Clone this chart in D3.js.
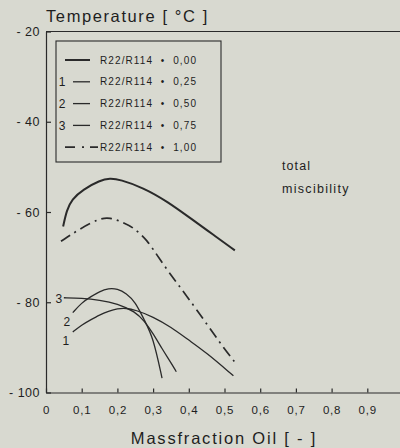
<!DOCTYPE html>
<html>
<head>
<meta charset="utf-8">
<script src="https://cdn.jsdelivr.net/npm/d3@7"></script>
<style>
  html, body { margin: 0; padding: 0; background: #d8d9d0; }
  svg { display: block; font-family: "Liberation Sans", Arial, sans-serif; }
  text { fill: #1e1e1e; }
</style>
</head>
<body>
<svg id="chart" width="400" height="448"></svg>
<script>
// Miscibility limits of R22/R114 blends with oil
const mixRatios = ["0,00", "0,25", "0,50", "0,75", "1,00"];
const curveNumbers = ["", "1", "2", "3", ""];

// mass fraction of oil (x) and temperature in °C (y), one pair per blend
const oil000 = [0.048, 0.058, 0.072, 0.104, 0.151, 0.179, 0.207, 0.272, 0.339, 0.412, 0.468, 0.529];
const temp000 = [-63.2, -59.6, -57.2, -55.0, -53.0, -52.5, -52.8, -54.6, -57.6, -61.8, -65.0, -68.5];

const oil025 = [0.075, 0.10, 0.125, 0.15, 0.175, 0.20, 0.225, 0.25, 0.30, 0.35, 0.40, 0.45, 0.525];
const temp025 = [-86.6, -85.0, -83.9, -82.8, -82.0, -81.4, -81.3, -81.7, -83.2, -85.5, -88.4, -91.2, -96.3];

const oil050 = [0.075, 0.10, 0.125, 0.15, 0.175, 0.20, 0.225, 0.25, 0.275, 0.30, 0.325];
const temp050 = [-82.3, -80.1, -78.8, -77.6, -76.9, -77.0, -78.0, -79.9, -83.9, -87.7, -96.8];

const oil075 = [0.05, 0.10, 0.15, 0.20, 0.25, 0.275, 0.30, 0.325, 0.35, 0.365];
const temp075 = [-79.0, -79.1, -79.5, -80.3, -82.1, -84.1, -86.9, -90.3, -93.4, -95.4];

const oil100 = [0.042, 0.095, 0.151, 0.179, 0.216, 0.244, 0.283, 0.319, 0.370, 0.423, 0.487, 0.535];
const temp100 = [-66.5, -63.7, -61.4, -61.2, -62.3, -63.4, -66.1, -70.6, -76.1, -81.7, -89.0, -93.9];

const xTicks = [0, 0.1, 0.2, 0.3, 0.4, 0.5, 0.6, 0.7, 0.8, 0.9];
const yTicks = [-100, -80, -60, -40, -20];

const seriesOil = [oil000, oil025, oil050, oil075, oil100];
const seriesTemp = [temp000, temp025, temp050, temp075, temp100];

const ink = "#2a2a2a";
const widths = [2, 1.3, 1.3, 1.3, 1.7];
const dashes = [null, null, null, null, "11,5,2,5"];

const svg = d3.select("#chart");
const x = d3.scaleLinear().domain([0, 1]).range([46, 403]);
const y = d3.scaleLinear().domain([-100, -20]).range([392.5, 31.5]);

// top frame line
svg.append("line")
  .attr("x1", x(0)).attr("x2", x(1))
  .attr("y1", y(-20)).attr("y2", y(-20))
  .attr("stroke", ink).attr("stroke-width", 1.2);

// x axis
const xAxis = svg.append("g")
  .attr("transform", `translate(0,${y(-100)})`)
  .call(d3.axisBottom(x)
    .tickValues(xTicks)
    .tickSizeInner(-4).tickSizeOuter(0).tickPadding(13)
    .tickFormat(d => d === 0 ? "0" : d3.format(".1f")(d).replace(".", ",")));
xAxis.selectAll("path, line").attr("stroke", ink).attr("stroke-width", 1.2);
xAxis.selectAll("text")
  .attr("fill", "#1e1e1e")
  .style("font-size", "11.5px").style("letter-spacing", "0.8px")
  .style("font-family", "Liberation Sans, Arial, sans-serif");

// y axis
const yAxis = svg.append("g")
  .attr("transform", `translate(${x(0)},0)`)
  .call(d3.axisLeft(y)
    .tickValues(yTicks)
    .tickSizeInner(-5).tickSizeOuter(0).tickPadding(6)
    .tickFormat(d => "- " + Math.abs(d)));
yAxis.selectAll("path, line").attr("stroke", ink).attr("stroke-width", 1.2);
yAxis.selectAll("text")
  .attr("fill", "#1e1e1e")
  .style("font-size", "12.5px").style("letter-spacing", "0.5px")
  .style("font-family", "Liberation Sans, Arial, sans-serif");

// axis titles
svg.append("text")
  .attr("x", 46).attr("y", 22)
  .style("font-size", "16.5px").style("letter-spacing", "1.6px")
  .text("Temperature [ °C ]");

svg.append("text")
  .attr("x", 224).attr("y", 444)
  .attr("text-anchor", "middle")
  .style("font-size", "16.5px").style("letter-spacing", "1.8px")
  .text("Massfraction Oil [ - ]");

// curves
const line = d3.line()
  .x(d => x(d[0])).y(d => y(d[1]))
  .curve(d3.curveBasis);

seriesOil.forEach((xs, i) => {
  const pts = xs.map((v, j) => [v, seriesTemp[i][j]]);
  svg.append("path")
    .attr("d", line(pts))
    .attr("fill", "none")
    .attr("stroke", ink)
    .attr("stroke-width", widths[i])
    .attr("stroke-dasharray", dashes[i]);
});

// curve numbers at the left ends
const numOffsets = [null, [-7, 12.5], [-6, 13.5], [-5, 5.5], null];
curveNumbers.forEach((n, i) => {
  if (!n) return;
  const ox = seriesOil[i][0], oy = seriesTemp[i][0];
  svg.append("text")
    .attr("x", x(ox) + numOffsets[i][0])
    .attr("y", y(oy) + numOffsets[i][1])
    .attr("text-anchor", "middle")
    .style("font-size", "12px")
    .text(n);
});

// legend
const legend = svg.append("g");
legend.append("rect")
  .attr("x", 56).attr("y", 41).attr("width", 165).attr("height", 121)
  .attr("fill", "none").attr("stroke", ink).attr("stroke-width", 1.1);

mixRatios.forEach((r, i) => {
  const ry = 60 + i * 21.8;
  const hasNum = curveNumbers[i] !== "";
  const x1 = hasNum ? 73 : 65;
  const x2 = i === 4 ? 98 : 90;
  legend.append("line")
    .attr("x1", x1).attr("x2", x2).attr("y1", ry).attr("y2", ry)
    .attr("stroke", ink).attr("stroke-width", widths[i])
    .attr("stroke-dasharray", i === 4 ? "10,7,2,6" : null);
  if (hasNum) {
    legend.append("text")
      .attr("x", 62).attr("y", ry + 4.5)
      .attr("text-anchor", "middle")
      .style("font-size", "12px")
      .text(curveNumbers[i]);
  }
  legend.append("text")
    .attr("x", 100).attr("y", ry + 3.5)
    .attr("xml:space", "preserve")
    .style("white-space", "pre")
    .style("font-size", "10px").style("letter-spacing", "1.1px")
    .text("R22/R114  •  " + r);
});

// region annotation
svg.append("text")
  .attr("x", 282).attr("y", 169.5)
  .style("font-size", "12.5px").style("letter-spacing", "1.1px")
  .text("total");
svg.append("text")
  .attr("x", 282).attr("y", 192.5)
  .style("font-size", "12.5px").style("letter-spacing", "1.3px")
  .text("miscibility");
</script>
</body>
</html>
